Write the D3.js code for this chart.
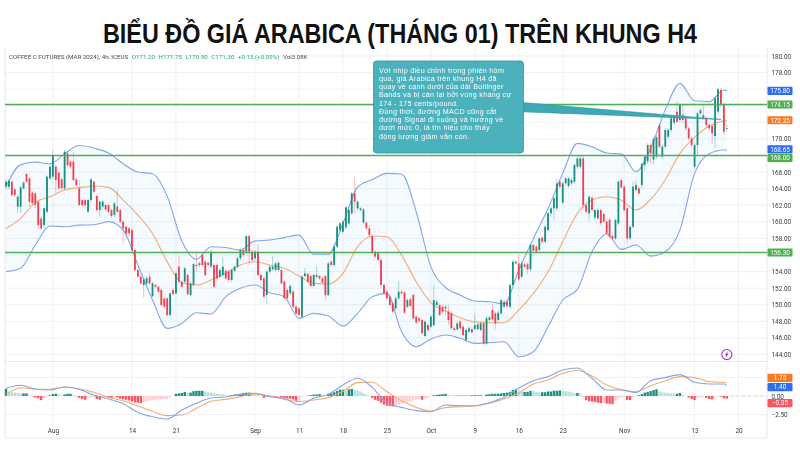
<!DOCTYPE html>
<head>
  <meta charset="utf-8">
  <script src="https://d3js.org/d3.v7.min.js"></script>
  <style>
    body { margin:0; background:#fff; }
    text { font-family: Roboto, sans-serif; }
    .axis path, .axis line { display: none; }
    .axis text { font-family: Roboto, sans-serif; font-size: 6.4px; fill: #333a45; }
    .grid-line { stroke: #f0f1f3; stroke-width: 1; }
    .frame-line { stroke: #e6e8eb; stroke-width: 1; }
    .band-line { fill: none; stroke: #84a5ea; stroke-width: 1.1; }
    .basis-line { fill: none; stroke: #f5ab70; stroke-width: 1.1; }
    .level-line { stroke: #4fae55; stroke-width: 1.3; }
    .title { font-family: 'Liberation Sans', sans-serif; font-weight: 700; font-size: 27px; fill: #111; }
    .note text { font-family: 'Liberation Sans', sans-serif; font-size: 7.15px; letter-spacing: 0.3px; fill: #fff; }
  </style>
</head>

<body>
  <script>
    var title = "BIỂU ĐỒ GIÁ ARABICA (THÁNG 01) TRÊN KHUNG H4";

    var candleOpen = [
      164.24,164.24,164.84,163.92,161.83,161.83,164.04,165.77,165.24,163.51,
      163.43,162.43,160.42,159.62,161.22,165.24,165.44,166.65,165.93,165.12,
      164.04,168.26,167.25,167.25,165.12,164.04,162.63,162.63,161.22,162.63,
      164.84,163.11,161.42,161.83,162.03,162.03,161.42,160.82,161.83,161.42,
      160.02,159.41,159.21,159.01,156.6,154.19,153.38,152.38,152.58,153.38,
      151.05,152.38,152.18,151.78,150.77,150.77,148.76,151.78,151.37,154.59,
      152.78,152.78,153.59,151.17,152.38,154.8,154.8,156.0,155.19,155.07,
      154.59,154.79,154.79,153.38,153.59,154.1,154.0,152.98,154.1,154.59,
      155.6,156.6,156.4,158.29,156.4,155.6,156.4,153.59,153.18,151.17,
      153.99,154.27,154.19,154.19,154.19,152.78,151.78,151.37,151.58,149.77,
      149.56,148.56,153.46,153.71,153.46,152.26,153.38,153.46,153.18,153.46,
      151.17,155.19,154.79,157.0,159.01,158.81,159.33,159.82,161.02,163.43,
      161.63,161.42,159.9,159.9,159.21,158.29,156.4,156.2,155.39,152.38,
      151.58,150.97,150.17,149.56,150.77,151.57,151.49,149.76,150.65,151.17,
      148.56,148.36,148.16,146.23,147.55,147.35,147.55,149.97,149.97,149.76,
      149.56,149.16,148.96,147.15,147.03,147.96,147.35,145.75,146.75,147.07,
      147.07,147.07,146.95,147.75,145.34,148.16,149.36,148.96,148.16,148.96,
      149.76,150.37,149.76,152.38,154.99,154.99,153.38,154.87,154.87,154.27,
      157.2,157.0,156.6,158.08,157.6,159.01,161.02,161.62,161.62,164.84,
      162.3,164.64,164.32,164.64,164.84,166.65,166.65,167.65,162.03,161.02,
      162.91,160.54,160.42,161.42,160.94,160.02,160.22,158.29,158.0,159.81,
      165.04,164.24,161.62,158.0,159.41,163.83,164.03,164.44,166.85,167.3,
      169.26,167.5,167.86,171.67,167.86,169.06,170.27,171.07,171.96,173.28,
      172.28,172.88,172.48,171.27,170.07,166.65,169.26,173.08,172.88,172.48,
      171.67,171.55,170.35,173.28,175.9,174.09,171.2
    ];
    var candleHigh = [
      165.12,165.12,164.96,164.04,163.2,164.3,164.9,165.9,165.4,163.7,
      163.6,162.6,160.6,161.8,165.6,166.9,168.66,166.9,166.1,165.3,
      168.7,168.5,167.4,168.46,165.3,165.04,162.8,162.8,162.8,165.3,
      165.0,163.3,162.6,162.6,162.2,162.2,161.6,162.4,163.84,161.6,
      160.2,159.6,159.4,159.2,156.8,154.4,153.6,153.2,153.4,153.87,
      152.8,152.5,152.3,151.9,150.9,150.9,151.6,152.0,154.0,155.88,
      153.0,154.6,153.8,152.8,155.1,156.2,155.2,156.2,155.4,155.2,
      156.6,155.0,155.0,154.4,155.8,154.3,154.2,154.4,154.8,155.8,
      156.8,156.8,158.5,158.5,156.6,156.6,157.3,153.8,153.4,154.2,
      154.8,155.8,155.2,155.3,154.4,153.0,152.0,152.5,151.8,150.0,
      149.8,153.6,154.39,153.9,153.6,153.8,154.67,153.6,153.4,153.6,
      155.2,155.4,157.2,159.6,160.0,160.2,161.9,161.6,163.6,165.44,
      162.6,161.8,161.7,160.1,159.6,158.5,156.6,156.4,155.6,152.6,
      151.8,151.2,150.4,151.0,152.9,151.8,151.7,150.8,150.9,151.4,
      148.8,148.6,148.4,148.2,147.8,148.8,152.38,150.6,150.2,150.0,
      150.0,149.97,149.2,147.4,148.0,148.2,147.6,147.2,147.4,147.3,
      148.96,147.9,148.0,148.0,148.6,148.7,150.16,149.2,149.3,150.8,
      150.6,150.6,152.6,155.4,155.4,156.11,155.2,155.1,155.1,157.4,
      157.4,157.2,158.2,158.3,159.6,161.2,161.8,163.0,165.2,165.0,
      164.84,165.4,165.4,165.3,167.0,167.9,168.05,167.9,162.2,163.2,
      163.1,161.6,161.6,161.6,161.1,160.2,160.5,158.5,160.4,165.0,
      165.24,164.4,161.8,159.6,164.84,165.0,164.2,167.2,168.0,169.5,
      169.5,170.3,170.4,171.9,169.3,171.3,171.3,172.7,172.9,174.49,
      174.3,174.09,172.7,171.5,170.3,169.5,173.3,173.7,174.09,172.7,
      171.9,171.8,175.1,176.2,176.2,174.3,171.75
    ];
    var candleLow = [
      163.84,163.92,163.11,163.03,161.1,161.1,163.9,164.7,161.83,162.0,
      161.6,159.1,159.0,159.2,161.0,165.0,165.2,163.43,163.9,163.9,
      163.8,166.6,166.4,164.9,164.3,161.9,161.8,161.63,161.0,162.4,
      163.4,161.2,160.62,161.6,161.3,161.0,160.5,160.6,161.0,159.9,
      157.4,158.0,158.2,156.4,154.0,153.2,152.4,150.89,152.3,152.4,
      150.9,152.0,151.4,149.8,149.6,148.6,148.6,151.1,151.2,152.6,
      152.0,152.6,151.1,151.0,152.2,154.0,154.5,154.6,153.4,154.6,
      154.4,152.0,153.0,153.2,153.4,153.0,152.8,152.7,153.9,154.4,
      155.4,155.8,156.2,154.79,155.2,155.4,153.4,152.8,150.8,150.09,
      153.8,154.1,154.0,154.0,152.4,150.6,150.6,151.2,149.6,148.8,
      148.6,148.4,153.3,152.6,152.1,152.1,153.2,153.0,152.5,150.57,
      151.0,154.6,154.6,156.8,158.8,158.6,159.1,159.6,160.8,161.02,
      161.4,161.2,159.7,159.0,158.2,156.1,155.6,155.2,152.2,151.2,
      150.6,149.8,149.0,149.4,150.6,151.2,148.9,149.6,149.7,148.2,
      147.7,147.9,146.4,146.1,146.8,147.2,147.4,149.8,148.6,149.0,
      148.8,147.55,147.0,146.8,146.9,147.0,146.2,145.5,146.6,146.5,
      146.9,146.9,146.8,145.1,145.1,148.0,148.1,147.1,148.0,148.8,
      149.6,149.7,149.6,152.2,154.8,152.9,153.2,154.4,153.7,154.1,
      156.3,156.2,156.4,157.4,157.4,158.8,160.6,160.3,161.4,164.0,
      162.1,164.4,164.1,164.4,164.6,166.4,166.4,161.42,161.0,160.14,
      161.2,160.3,160.2,159.6,159.9,158.4,158.0,157.8,157.8,159.6,
      164.0,161.2,157.4,157.8,159.2,163.6,163.2,164.0,166.2,167.0,
      167.05,166.85,167.6,168.8,167.6,168.8,170.0,170.8,171.7,171.9,
      172.0,172.0,171.0,169.8,169.0,166.4,168.06,172.8,172.3,171.4,
      171.0,169.46,168.9,173.0,173.8,170.5,170.9
    ];
    var candleClose = [
      164.84,164.96,163.23,163.23,163.03,164.16,164.72,164.84,162.43,162.23,
      162.03,159.62,159.21,161.63,165.44,166.65,168.06,165.04,164.04,164.04,
      168.46,166.85,166.65,165.04,164.44,162.03,162.03,162.03,162.63,165.12,
      163.63,161.42,162.43,162.43,161.5,161.22,160.7,162.23,161.22,160.02,
      159.21,158.61,158.61,156.6,154.19,153.38,152.58,153.06,153.18,152.58,
      152.58,152.18,151.58,149.97,149.77,148.76,151.37,151.29,153.79,152.78,
      152.18,154.39,151.29,152.58,154.91,154.65,155.0,154.79,153.59,154.79,
      156.4,152.18,153.18,154.19,154.59,153.18,152.98,154.19,154.59,155.6,
      156.6,156.0,158.29,156.4,155.39,156.4,153.59,152.98,150.97,153.99,
      154.59,154.59,154.99,155.07,152.58,150.77,150.77,152.26,149.77,148.96,
      148.76,153.38,153.79,152.78,152.26,153.59,153.59,153.18,152.66,151.17,
      154.99,154.79,157.0,159.41,159.82,160.02,161.75,161.42,163.43,162.43,
      162.43,161.63,161.5,159.21,158.41,156.28,155.8,155.39,152.38,151.37,
      150.77,149.97,149.16,150.77,151.58,151.37,149.04,150.57,149.85,148.36,
      147.83,148.08,146.55,147.96,146.95,148.56,150.57,150.37,148.76,149.16,
      149.76,148.16,147.15,146.95,147.75,147.15,146.35,146.95,147.15,146.67,
      147.55,147.63,147.75,145.34,148.36,148.48,148.24,147.75,149.04,150.57,
      150.37,149.84,152.38,155.19,155.19,153.06,154.99,154.59,154.27,157.2,
      156.52,156.4,158.0,157.6,159.41,161.02,161.62,162.83,164.64,164.24,
      164.64,165.24,165.24,165.04,166.85,167.65,167.65,162.03,161.22,163.03,
      161.42,161.42,161.42,159.82,160.02,158.6,158.2,158.0,160.22,164.84,
      164.16,161.42,158.0,159.41,164.24,164.44,163.43,167.0,167.9,169.26,
      168.26,170.0,170.19,169.06,169.06,171.07,171.07,172.48,172.68,172.08,
      174.09,172.28,171.27,170.07,169.26,169.26,173.08,173.48,172.48,171.67,
      171.27,170.67,174.89,175.98,174.09,170.87,171.3
    ];

    // bars at which the indicator lines were read
    var lineIndex = [
      0,5,10,15,20,25,30,35,40,45,50,55,60,65,70,75,80,85,90,95,100,105,110,115,120,
      125,130,135,140,145,150,155,160,165,170,175,180,185,190,195,200,205,210,215,220,
      225,230,235,240,245,246
    ];
    var bbUpper = [
      164.25,166.9,167.2,167.0,168.2,169.2,168.9,168.3,167.0,166.0,165.8,163.1,157.7,155.5,
      157.0,156.9,156.6,157.7,157.8,158.1,158.4,156.1,156.1,159.8,164.2,165.1,165.85,
      165.76,161.22,154.6,152.1,151.17,150.45,150.37,150.1,154.2,158.0,161.6,165.85,169.46,169.06,
      168.3,168.2,166.04,168.86,173.5,176.7,174.6,174.5,175.9,175.8
    ];
    var bbBasis = [
      159.2,160.42,162.35,163.03,163.84,164.12,164.32,164.16,162.63,160.82,158.6,155.2,152.66,152.38,
      152.98,153.79,154.79,155.19,154.79,154.39,153.46,152.58,152.5,153.79,157.0,158.29,158.2,
      155.99,152.78,150.25,149.24,148.44,147.92,147.83,147.83,149.36,151.37,153.98,157.6,161.02,162.63,
      163.03,162.59,161.42,162.71,165.04,168.26,170.19,171.55,172.2,172.25
    ];
    var bbLower = [
      153.99,154.39,157.2,159.5,159.4,159.6,159.65,160.02,159.0,154.79,150.57,147.15,147.75,149.04,
      148.88,150.97,151.98,152.38,151.45,150.97,148.36,148.96,148.64,147.43,148.96,150.97,151.37,
      146.75,144.94,145.87,146.35,145.95,145.34,145.42,145.54,143.73,144.34,147.35,150.57,151.85,156.4,
      158.53,156.68,157.2,155.87,156.4,159.0,165.84,168.2,168.66,168.65
    ];

    var macdLine = [
      1.03,1.43,.94,.8,1.2,.9,.13,-.4,-1.03,-2.19,-2.77,-3.08,-1.88,-.98,-.27,-.13,.22,.36,-.09,
      -.31,-1.2,-.31,.22,1.47,2.37,1.16,-.98,-1.52,-1.96,-2.1,-1.2,-1.3,-1.3,-.89,-.18,1.07,
      2.05,2.59,3.48,3.75,2.37,.8,.8,.45,2.05,2.46,2.86,1.83,1.6,1.6,1.4
    ];
    var signalLine = [
      .13,1.1,.9,.9,1.2,.94,.49,-.18,-.63,-1.34,-2.05,-2.63,-2.54,-1.65,-.71,-.45,-.09,.27,0,
      -.45,-.76,-.54,-.22,.63,1.79,1.83,.58,-.63,-1.52,-2,-1.56,-1.43,-1.34,-.98,-.4,.4,
      1.6,2.14,3.04,3.4,2.68,1.47,.85,.58,1.38,2.05,2.59,2.46,1.92,1.83,1.75
    ];
    var macdHist = [
      .95,.6,.5,.45,.4,.35,.35,.35,.05,-.05,-.2,-.3,-.55,-.3,-.15,.1,.25,.3,.25,.1,
      .2,.3,.3,.1,-.05,-.25,-.4,-.5,-.3,-.2,-.2,-.4,-.5,-.25,-.15,-.2,-.3,-.15,-.2,-.35,
      -.45,-.5,-.6,-.75,-.85,-.9,-.95,-.8,-.7,-.6,-.55,-.5,-.45,-.45,-.4,-.4,-.15,0,.3,.35,
      .4,.55,.4,.45,.65,.7,.7,.7,.6,.5,.45,.4,.35,.25,.2,.1,.05,.1,.2,.2,
      .3,.4,.45,.45,.3,.25,.2,.05,-.25,-.15,-.05,-.05,-.1,-.1,-.2,-.25,-.3,-.35,-.45,-.65,
      -.65,-.1,0,.05,.1,.2,.2,.25,.1,.05,.3,.35,.5,.7,.85,.85,.7,.9,.95,.8,
      .75,.6,.4,.2,.05,-.25,-.5,-.65,-.9,-1.15,-1.3,-1.35,-1.4,-1.3,-1.15,-1.05,-.95,-.85,-.75,-.6,
      -.5,-.4,-.5,-.35,-.2,0,.1,.15,.2,.25,.3,.15,.05,.05,.05,.05,.05,.05,.05,.1,
      .1,.1,.1,.05,.2,.25,.3,.3,.3,.35,.4,.45,.55,.8,.9,.7,.55,.55,.55,.7,
      .65,.55,.5,.5,.5,.6,.6,.7,.7,.75,.7,.65,.6,.5,.4,.4,.3,-.05,-.55,-.7,
      -.75,-.8,-.9,-.95,-.95,-1,-1.05,-1.1,-.6,-.3,-.2,-.15,-.5,-.55,-.2,-.1,.1,.25,.45,.55,
      .65,.8,.9,.6,.5,.45,.4,.35,.3,.3,.4,.15,0,-.2,-.4,-.55,-.25,-.15,-.15,-.25,
      -.4,-.45,-.1,-.05,-.1,-.3,-.35
    ];

    var gridTicks = [180,178,176,174,172,170,168,166,164,162,160,158,156,154,152,150,148,146,144];
    // the others sit under the coloured tags
    var priceTicks = [180,178,170,166,164,162,160,158,154,152,150,148,146,144];
    var macdTicks = [0,-2.5];
    var levels = [174.15,168,156.3];
    var dateBars = [16,43,58,85,100,115,130,145,160,175,190,211,235,250];
    var dateLabels = ["Aug","14","21","Sep","11","18","25","Oct","9","16","23","Nov","13","20"];
    var noteLines = [
      "Với nhịp điều chỉnh trong phiên hôm",
      "qua, giá Arabica trên khung H4 đã",
      "quay về cạnh dưới của dải Bollinger",
      "Bands và bị cản lại bởi vùng kháng cự",
      "174 - 175 cents/pound.",
      "Đồng thời, đường MACD cũng cắt",
      "đường Signal đi xuống và hướng về",
      "dưới mức 0, là tín hiệu cho thấy",
      "động lượng giảm vẫn còn."
    ];

    var width = 800, height = 450;
    var plot = {left: 5, right: 767, top: 48, split: 361.5, bottom: 438};

    var root = d3.select("body").append("svg")
        .attr("width", width)
        .attr("height", height)
        .style("display", "block");

    root.append("text")
        .attr("class", "title")
        .attr("x", 103)
        .attr("y", 43)
        .attr("textLength", 594)
        .attr("lengthAdjust", "spacingAndGlyphs")
        .text(title);

    // the reference is a slightly soft screenshot
    var svg = root.append("g").style("filter", "blur(0.3px)");

    var x = d3.scaleLinear().domain([0, 246]).range([6, 726.8]);
    var y = d3.scaleLinear().domain([180, 144]).range([56, 354.5]);
    var yMacd = d3.scaleLinear().domain([0, -2.5]).range([396, 414.7]);

    // grid
    var grid = svg.append("g");
    grid.selectAll(".v").data(dateBars).enter().append("line")
        .attr("class", "grid-line")
        .attr("x1", d => x(d)).attr("x2", d => x(d))
        .attr("y1", plot.top).attr("y2", plot.bottom);
    grid.selectAll(".h").data(gridTicks).enter().append("line")
        .attr("class", "grid-line")
        .attr("x1", plot.left).attr("x2", plot.right)
        .attr("y1", d => y(d)).attr("y2", d => y(d));
    grid.selectAll(".m").data([2.5,0,-2.5]).enter().append("line")
        .attr("class", "grid-line")
        .attr("x1", plot.left).attr("x2", plot.right)
        .attr("y1", d => yMacd(d)).attr("y2", d => yMacd(d));

    // frame
    [[plot.left, plot.top, plot.left, plot.bottom],
     [plot.right, plot.top, plot.right, plot.bottom],
     [plot.left, plot.split, plot.right, plot.split],
     [plot.left, plot.bottom, plot.right, plot.bottom]].forEach(function(l) {
      svg.append("line").attr("class", "frame-line")
          .attr("x1", l[0]).attr("y1", l[1]).attr("x2", l[2]).attr("y2", l[3]);
    });

    // bollinger bands
    var area = d3.area()
        .x(d => x(lineIndex[d]))
        .y0(d => y(bbLower[d]))
        .y1(d => y(bbUpper[d]))
        .curve(d3.curveMonotoneX);
    var bandLine = function(values, scale) {
      return d3.line()
          .x((d, i) => x(lineIndex[i]))
          .y(d => scale(d))
          .curve(d3.curveMonotoneX)(values);
    };

    svg.append("path")
        .attr("d", area(d3.range(lineIndex.length)))
        .attr("fill", "#2196f3")
        .attr("fill-opacity", 0.05);
    svg.append("path").attr("class", "band-line").attr("d", bandLine(bbUpper, y));
    svg.append("path").attr("class", "band-line").attr("d", bandLine(bbLower, y));
    svg.append("path").attr("class", "basis-line").attr("d", bandLine(bbBasis, y));

    // candles
    var candleColour = (d) => candleClose[d] >= candleOpen[d] ? "#17907f" : "#ef3f50";
    var candles = svg.append("g").selectAll("g")
        .data(d3.range(candleOpen.length))
        .enter().append("g");
    candles.append("line")
        .attr("x1", d => x(d)).attr("x2", d => x(d))
        .attr("y1", d => y(candleHigh[d]))
        .attr("y2", d => y(candleLow[d]))
        .attr("stroke", candleColour)
        .attr("stroke-opacity", 0.5)
        .attr("stroke-width", 0.7);
    candles.append("rect")
        .attr("x", d => x(d) - 0.9)
        .attr("width", 1.8)
        .attr("y", d => Math.min(y(candleOpen[d]), y(candleClose[d])))
        .attr("height", d => Math.max(0.6, Math.abs(y(candleOpen[d]) - y(candleClose[d]))))
        .attr("fill", candleColour);

    // levels
    svg.append("g").selectAll("line")
        .data(levels)
        .enter().append("line")
        .attr("class", "level-line")
        .attr("x1", plot.left).attr("x2", plot.right)
        .attr("y1", d => y(d)).attr("y2", d => y(d));

    // macd pane
    var histColour = function(i) {
      var v = macdHist[i], prev = i > 0 ? macdHist[i - 1] : 0;
      if (v >= 0) return v >= prev ? "#17907f" : "#b5e0da";
      return v < prev ? "#ff5360" : "#fcccd2";
    };
    svg.append("g").selectAll("rect")
        .data(macdHist)
        .enter().append("rect")
        .attr("x", (d, i) => x(i) - 1.2)
        .attr("width", 2.4)
        .attr("y", d => Math.min(yMacd(0), yMacd(d)))
        .attr("height", d => Math.abs(yMacd(d) - yMacd(0)))
        .attr("fill", (d, i) => histColour(i));
    svg.append("path").attr("class", "basis-line").attr("d", bandLine(signalLine, yMacd));
    svg.append("path").attr("class", "band-line").attr("d", bandLine(macdLine, yMacd));

    svg.append("line")
        .attr("x1", x(246) + 3).attr("x2", plot.right)
        .attr("y1", yMacd(0)).attr("y2", yMacd(0))
        .attr("stroke", "#c9ccd1")
        .attr("stroke-width", 0.7)
        .attr("stroke-dasharray", "3,3");

    // axes
    svg.append("g")
        .attr("class", "axis")
        .attr("transform", "translate(" + plot.right + ",0)")
        .call(d3.axisRight(y).tickValues(priceTicks).tickFormat(d3.format(".2f")).tickSize(0).tickPadding(4.5));
    svg.append("g")
        .attr("class", "axis")
        .attr("transform", "translate(" + plot.right + ",0)")
        .call(d3.axisRight(yMacd).tickValues(macdTicks).tickFormat(d3.format(".2f")).tickSize(0).tickPadding(4.5));
    svg.append("g")
        .attr("class", "axis")
        .attr("transform", "translate(0,428)")
        .call(d3.axisBottom(x).tickValues(dateBars).tickFormat((d, i) => dateLabels[i]).tickSize(0).tickPadding(0));

    // legend row
    var legend = svg.append("text")
        .attr("x", 9)
        .attr("y", 59)
        .attr("font-size", 6.2)
        .attr("fill", "#4a4f5a");
    legend.append("tspan").text("COFFEE C FUTURES (MAR 2024), 4h, ICEUS");
    ["O171.20", "H171.75", "L170.90", "C171.30", "+0.15 (+0.09%)"].forEach(function(s) {
      legend.append("tspan").attr("dx", 3.5).attr("fill", "#22ab94").text(s);
    });
    legend.append("tspan").attr("dx", 3.5).attr("fill", "#4a4f5a").text("Vol3.08K");

    // note with its pointer
    var note = svg.append("g").attr("class", "note");
    var pointerBar = 244, pointerPrice = 172.35;
    note.append("path")
        .attr("d", "M520,102.3L" + x(pointerBar) + "," + y(pointerPrice) + "L520,111.7Z")
        .attr("fill", "#3fa8b4")
        .attr("stroke", "#2a98a3")
        .attr("stroke-width", 0.6);
    note.append("rect")
        .attr("x", 373.5).attr("y", 61)
        .attr("width", 150).attr("height", 92)
        .attr("rx", 3)
        .attr("fill", "#4bb1bd")
        .attr("stroke", "#2a98a3")
        .attr("stroke-width", 0.8);
    note.selectAll("text")
        .data(noteLines)
        .enter().append("text")
        .attr("x", 379)
        .attr("y", (d, i) => 72.5 + i * 8.27)
        .text(d => d);

    // price and indicator tags
    function tag(value, scale, colour, offset) {
      var cy = scale(value) + (offset || 0);
      var g = svg.append("g");
      g.append("rect")
          .attr("x", 767.5).attr("y", cy - 4.1)
          .attr("width", 25).attr("height", 8.2)
          .attr("rx", 1)
          .attr("fill", colour);
      g.append("text")
          .attr("x", 780).attr("y", cy + 2.3)
          .attr("text-anchor", "middle")
          .attr("font-size", 6.4)
          .attr("fill", "#fff")
          .text(d3.format(".2f")(value));
    }
    tag(168, y, "#4caf50", 2.5);
    tag(175.8, y, "#2f6df0");
    tag(174.15, y, "#4caf50");
    tag(172.25, y, "#f57c24");
    tag(168.65, y, "#2f6df0", -0.8);
    tag(156.3, y, "#4caf50");
    tag(1.75, yMacd, "#f57c24", -5);
    tag(1.4, yMacd, "#2f6df0", 1.5);
    tag(-0.35, yMacd, "#ff5360", 4.5);

    // alert mark under the last bar
    var bolt = svg.append("g").attr("transform", "translate(" + x(246) + "," + y(144) + ")");
    bolt.append("circle").attr("r", 5).attr("fill", "#fff").attr("stroke", "#a13bb5").attr("stroke-width", 1.1);
    bolt.append("path").attr("d", "M1.2,-3.4L-2,0.7H-0.3L-1.2,3.4L2,-0.7H0.3Z").attr("fill", "#a13bb5");
  </script>
</body>
